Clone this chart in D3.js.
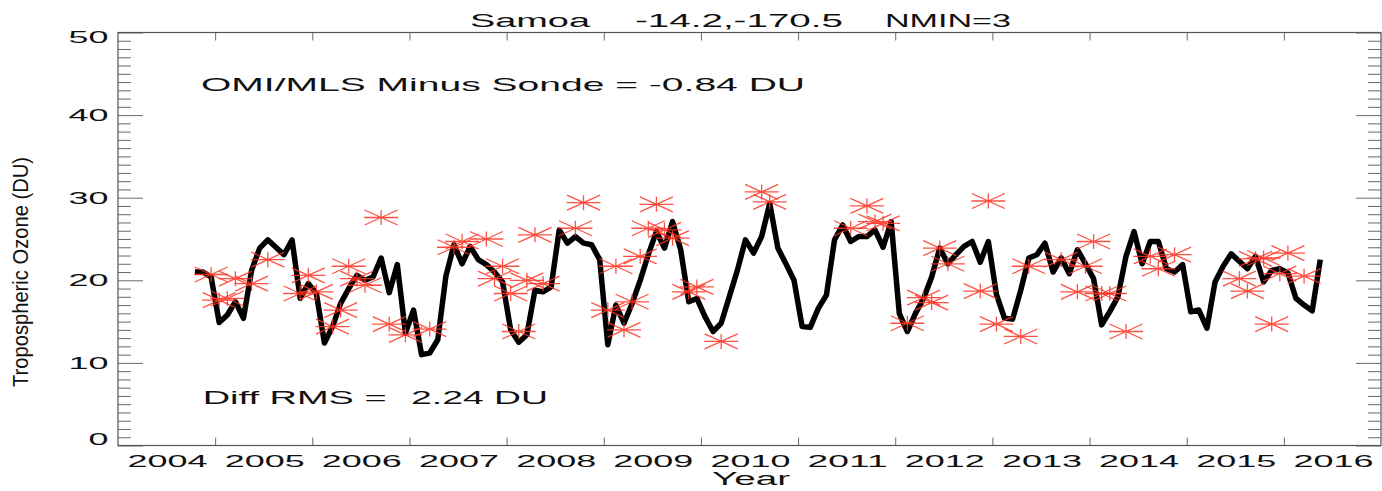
<!DOCTYPE html>
<html>
<head>
<meta charset="utf-8">
<script src="https://cdn.jsdelivr.net/npm/d3@7"></script>
<style>
  body { margin: 0; background: #fff; }
  text { font-family: "Liberation Sans", Arial, Helvetica, sans-serif; fill: #111; }
</style>
</head>
<body>
<svg id="chart" width="1382" height="491"></svg>
<script>
// Monthly tropospheric column ozone (DU), first month = October 2004
const firstYear = 2004;
const firstMonth = 10;

// OMI/MLS monthly means, one value per month
const omiMls = [
  21.0,21.0,20.4,14.9,15.8,17.4,15.4,21.2,23.9,24.9,
  24.0,23.1,24.9,17.8,19.6,18.4,12.4,14.4,17.2,19.0,
  20.6,20.0,20.4,22.7,18.5,21.9,13.6,16.4,11.0,11.2,
  12.8,20.5,24.3,22.0,24.1,22.5,21.9,21.0,19.8,14.0,
  12.5,13.4,18.8,18.6,19.2,26.1,24.5,25.3,24.5,24.3,
  22.5,12.2,17.0,14.8,17.2,20.0,23.1,25.9,23.9,27.1,
  23.7,17.4,17.8,15.6,13.8,14.8,18.0,21.2,24.9,23.3,
  25.3,29.3,23.9,22.0,20.0,14.4,14.3,16.6,18.2,24.9,
  26.7,24.7,25.3,25.3,26.1,24.0,27.1,16.0,13.8,16.0,
  17.8,20.4,23.9,22.0,23.1,24.1,24.7,22.2,24.7,18.3,
  15.4,15.3,18.8,22.7,23.1,24.5,21.0,22.7,20.8,23.7,
  22.0,20.2,14.6,16.2,18.0,22.9,25.9,22.0,24.7,24.7,
  21.4,21.0,21.9,16.2,16.4,14.2,19.8,21.7,23.2,22.3,
  21.4,22.9,19.8,21.2,21.4,20.9,17.8,17.0,16.3,22.5
];

// Sonde monthly means (months with at least NMIN launches)
const sondeMonth = [
  2,3,4,5,7,9,13,14,15,17,18,19,20,21,23,24,26,29,
  32,33,36,37,38,39,40,41,42,43,47,48,51,52,53,54,55,56,57,58,59,61,62,
  65,70,71,81,83,84,85,88,90,91,92,93,97,98,99,
  102,103,107,109,110,111,112,113,115,118,119,121,129,130,131,132,133,134,135,137
];
const sondeDU = [
  20.7,17.6,17.8,20.2,19.6,22.5,18.4,20.6,18.6,14.4,16.4,21.7,20.2,19.4,27.6,14.7,13.4,14.1,
  24.0,24.7,25.0,20.2,21.7,18.4,13.8,20.0,25.5,19.6,26.3,29.4,16.4,21.7,14.0,17.4,22.9,26.3,29.2,26.1,25.1,18.6,19.2,
  12.6,30.7,29.5,26.3,29.0,27.1,26.9,14.8,17.9,17.3,23.9,22.0,18.7,29.6,14.7,
  13.2,21.7,22.5,18.6,21.7,24.7,18.4,18.4,13.8,22.9,21.4,23.1,20.2,18.7,22.6,22.7,14.7,20.8,23.3,20.5
];

const yearLabels = ["2004","2005","2006","2007","2008","2009","2010","2011","2012","2013","2014","2015","2016"];
const yMajor = [0, 10, 20, 30, 40, 50];

const titleParts = ["Samoa", "-14.2,-170.5", "NMIN=3"];
const biasText = "OMI/MLS Minus Sonde = -0.84 DU";
const rmsLabel = "Diff RMS =";
const rmsValue = "2.24 DU";

// month index -> decimal year at mid-month
const monthTime = k => firstYear + (firstMonth - 1 + k + 0.5) / 12;

const svg = d3.select("#chart");
const L = 118, R = 1381, T = 32.5, B = 445.5;

const x = d3.scaleLinear().domain([2004, 2017]).range([L, R]);
const y = d3.scaleLinear().domain([0, 50]).range([B, T]);

svg.append("rect").attr("width", 1382).attr("height", 491).attr("fill", "#fff");

// ---- axes ----
const axisCol = "#6a6a6a";
function styleAxis(g) {
  g.select(".domain").remove();
  g.selectAll(".tick line").attr("stroke", axisCol).attr("stroke-width", 1);
  g.selectAll(".tick text").remove();
}
const yearTicks = d3.range(2005, 2017);
svg.append("g").attr("transform", `translate(0,${B})`)
  .call(d3.axisBottom(x).tickValues(yearTicks).tickSize(-8).tickFormat("")).call(styleAxis);
svg.append("g").attr("transform", `translate(0,${T})`)
  .call(d3.axisTop(x).tickValues(yearTicks).tickSize(-8).tickFormat("")).call(styleAxis);

const yMinor = d3.range(0, 51).filter(v => v % 10 !== 0);
svg.append("g").attr("transform", `translate(${L},0)`)
  .call(d3.axisLeft(y).tickValues(yMinor).tickSize(-13).tickFormat("")).call(styleAxis);
svg.append("g").attr("transform", `translate(${L},0)`)
  .call(d3.axisLeft(y).tickValues(yMajor).tickSize(-25).tickFormat("")).call(styleAxis);
svg.append("g").attr("transform", `translate(${R},0)`)
  .call(d3.axisRight(y).tickValues(yMinor).tickSize(-13).tickFormat("")).call(styleAxis);
svg.append("g").attr("transform", `translate(${R},0)`)
  .call(d3.axisRight(y).tickValues(yMajor).tickSize(-25).tickFormat("")).call(styleAxis);

// frame
svg.append("rect")
  .attr("x", L).attr("y", T).attr("width", R - L).attr("height", B - T)
  .attr("fill", "none").attr("stroke", "#555").attr("stroke-width", 1.2);

// y tick labels (end labels nudged inside the frame)
svg.append("g").selectAll("text").data(yMajor).join("text")
  .attr("x", 108.5)
  .attr("y", d => y(d) + (d === 0 ? -0.5 : d === 50 ? 10.2 : 6))
  .attr("text-anchor", "end")
  .attr("font-size", 16.5)
  .attr("textLength", d => String(d).length * 20)
  .attr("lengthAdjust", "spacingAndGlyphs")
  .text(d => d);

// year labels centred inside each year
svg.append("g").selectAll("text").data(yearLabels).join("text")
  .attr("x", d => x(+d + 0.5) + 1)
  .attr("y", 466.7)
  .attr("text-anchor", "middle")
  .attr("font-size", 16.5)
  .attr("textLength", 80)
  .attr("lengthAdjust", "spacingAndGlyphs")
  .text(d => d);

// axis titles
svg.append("text")
  .attr("x", 751).attr("y", 485)
  .attr("text-anchor", "middle").attr("font-size", 18)
  .attr("textLength", 78).attr("lengthAdjust", "spacingAndGlyphs")
  .text("Year");

svg.append("text")
  .attr("transform", "translate(28,272) rotate(-90)")
  .attr("text-anchor", "middle")
  .attr("font-size", 22)
  .style("font-family", '"Liberation Sans Narrow", "Liberation Sans", Arial, sans-serif')
  .attr("textLength", 230).attr("lengthAdjust", "spacingAndGlyphs")
  .text("Tropospheric Ozone (DU)");

// title
const titleX = [470, 635, 885], titleW = [120, 208, 126];
svg.append("g").selectAll("text").data(titleParts).join("text")
  .attr("x", (d, i) => titleX[i]).attr("y", 26.7)
  .attr("font-size", 18)
  .attr("textLength", (d, i) => titleW[i])
  .attr("lengthAdjust", "spacingAndGlyphs")
  .text(d => d);

// statistics annotations
svg.append("text").attr("x", 201).attr("y", 90.7).attr("font-size", 18.5)
  .attr("textLength", 604).attr("lengthAdjust", "spacingAndGlyphs").text(biasText);
svg.append("text").attr("x", 202.7).attr("y", 404).attr("font-size", 18.5)
  .attr("textLength", 184).attr("lengthAdjust", "spacingAndGlyphs").text(rmsLabel);
svg.append("text").attr("x", 411).attr("y", 404).attr("font-size", 18.5)
  .attr("textLength", 137).attr("lengthAdjust", "spacingAndGlyphs").text(rmsValue);

// ---- OMI/MLS line ----
const line = d3.line()
  .x((d, i) => x(monthTime(i)))
  .y(d => y(d));
svg.append("path")
  .datum(omiMls)
  .attr("d", line)
  .attr("fill", "none")
  .attr("stroke", "#000")
  .attr("stroke-width", 5.5)
  .attr("stroke-linejoin", "round");

// ---- sonde asterisks ----
const star = "M-17,0H17M0,-7.5V7.5M-16.5,-7.5L16.5,7.5M-16.5,7.5L16.5,-7.5";
svg.append("g").selectAll("path")
  .data(sondeMonth.map((k, i) => ({ t: monthTime(k), v: sondeDU[i] })))
  .join("path")
  .attr("transform", d => `translate(${x(d.t)},${y(d.v)})`)
  .attr("d", star)
  .attr("fill", "none")
  .attr("stroke", "#ff3322")
  .attr("stroke-width", 1.3)
  .attr("stroke-opacity", 0.85);
</script>
</body>
</html>
